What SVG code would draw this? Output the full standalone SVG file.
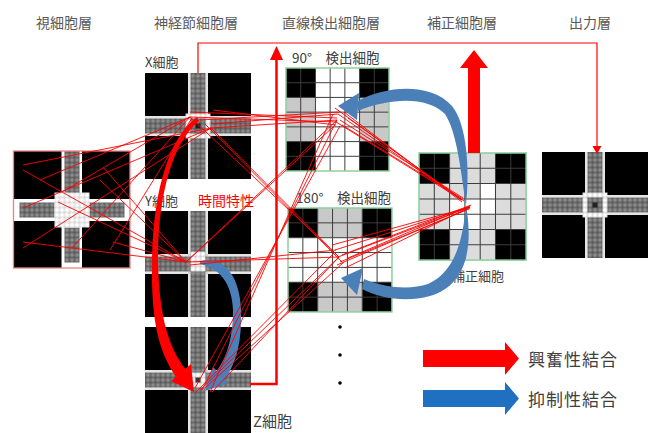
<svg xmlns="http://www.w3.org/2000/svg" width="652" height="433" viewBox="0 0 652 433">
<style>
text{font-family:'Noto Sans CJK JP','Noto Sans',sans-serif;}
.hdr{font-size:14px;fill:#595959;text-anchor:middle}
.lbl{font-size:13px;fill:#404040}
.leg{font-size:17px;fill:#404040;letter-spacing:1px}
.blk{fill:#000}
.grid{fill:none;stroke:#3c3c3c;stroke-width:1}
.bord{fill:none;stroke:#8ccf9c;stroke-width:1.5}
.ln{stroke:#ff0000;stroke-width:0.9;fill:none}
.gry{fill:#c8c8c8}
.lgry{fill:#dcdcdc}
.red{fill:#ff0000}
.blue{fill:#4a7fb8}
</style>
<defs>
<pattern id="pg" x="0.5" y="0.5" width="5" height="5" patternUnits="userSpaceOnUse"><rect width="5" height="5" fill="#8a8a8a" stroke="#3a3a3a" stroke-width="0.8"/></pattern>
<pattern id="pr" x="4.5" y="2.5" width="5" height="5" patternUnits="userSpaceOnUse"><rect width="5" height="5" fill="#8a8a8a" stroke="#3a3a3a" stroke-width="0.8"/></pattern>
<pattern id="pw" x="0.5" y="0.5" width="5" height="5" patternUnits="userSpaceOnUse"><rect width="5" height="5" fill="#fff" stroke="#9a9a9a" stroke-width="0.6"/></pattern>
<pattern id="prw" x="4.5" y="2.5" width="5" height="5" patternUnits="userSpaceOnUse"><rect width="5" height="5" fill="#fff" stroke="#b0b0b0" stroke-width="0.6"/></pattern>
<g id="gang">
<rect width="106" height="106" fill="#fff"/>
<rect class="blk" width="43" height="43"/>
<rect class="blk" x="63" width="43" height="43"/>
<rect class="blk" y="63" width="43" height="43"/>
<rect class="blk" x="63" y="63" width="43" height="43"/>
<rect x="45.5" y="0" width="15" height="106" fill="url(#pg)"/>
<rect x="0" y="45.5" width="106" height="15" fill="url(#pg)"/>
<path d="M44,0V106M62,0V106M0,44H106M0,62H106" stroke="#aaa" stroke-width="0.6"/>
</g>
<path id="g7" class="grid" d="M15,0V105M30,0V105M45,0V105M60,0V105M75,0V105M90,0V105M0,15H105M0,30H105M0,45H105M0,60H105M0,75H105M0,90H105"/>
<g id="corners">
<rect width="105" height="105" fill="#fff"/>
<rect class="blk" width="30" height="30"/>
<rect class="blk" x="75" width="30" height="30"/>
<rect class="blk" y="75" width="30" height="30"/>
<rect class="blk" x="75" y="75" width="30" height="30"/>
</g>
</defs>

<g id="headers">
<text class="hdr" x="64" y="28">視細胞層</text>
<text class="hdr" x="196" y="28">神経節細胞層</text>
<text class="hdr" x="331" y="28">直線検出細胞層</text>
<text class="hdr" x="462" y="28">補正細胞層</text>
<text class="hdr" x="590" y="28">出力層</text>
</g>

<g id="retina">
<rect x="13.5" y="151" width="116.5" height="117" fill="#fff"/>
<rect class="blk" x="13.5" y="151" width="48" height="48"/>
<rect class="blk" x="82" y="151" width="48" height="48"/>
<rect class="blk" x="13.5" y="221" width="48" height="47"/>
<rect class="blk" x="82" y="221" width="48" height="47"/>
<rect x="64.5" y="151" width="15" height="42" fill="url(#pr)"/>
<rect x="64.5" y="227.5" width="15" height="35" fill="url(#pr)"/>
<rect x="19.5" y="202.5" width="35" height="15" fill="url(#pr)"/>
<rect x="89.5" y="202.5" width="35" height="15" fill="url(#pr)"/>
<rect x="54.5" y="192.5" width="35" height="35" fill="url(#prw)"/>
<rect x="13.5" y="151" width="116.5" height="117" fill="none" stroke="#f08080" stroke-width="1.3"/>
</g>

<g id="x-cell">
<use href="#gang" x="145" y="73"/>
<g transform="translate(145,73)">
<rect x="40.5" y="40.5" width="25" height="25" fill="url(#pw)"/>
<rect x="45.5" y="45.5" width="15" height="15" fill="url(#pg)"/>
<rect x="50.5" y="50.5" width="5" height="5" fill="#222"/>
</g>
<text class="lbl" x="145" y="67">X細胞</text>
</g>

<g id="y-cell">
<use href="#gang" x="145" y="211"/>
<g transform="translate(145,211)">
<rect x="45.5" y="40.5" width="15" height="20" fill="url(#pw)"/>
</g>
<text class="lbl" x="145" y="206">Y細胞</text>
<text class="lbl" x="198" y="206" style="fill:#ff0000;font-size:14px">時間特性</text>
</g>

<g id="z-cell">
<use href="#gang" x="145" y="327"/>
<g transform="translate(145,327)">
<rect x="45.5" y="45.5" width="15" height="15" fill="url(#pw)"/>
<rect x="50.5" y="50.5" width="5" height="5" fill="#333"/>
</g>
<text class="lbl" x="253" y="427" style="font-size:15px">Z細胞</text>
</g>

<g id="d90-cell">
<g transform="translate(286,68) scale(0.981)">
<use href="#corners"/>
<rect class="gry" x="0" y="30" width="30" height="45"/>
<rect class="gry" x="75" y="30" width="30" height="45"/>
<use href="#g7"/>
<rect class="bord" width="105" height="105"/>
</g>
<text class="lbl" x="292" y="63" style="font-size:13.5px">90°　検出細胞</text>
</g>

<g id="d180-cell">
<g transform="translate(288,208) scale(0.99)">
<use href="#corners"/>
<rect class="gry" x="30" y="0" width="45" height="30"/>
<rect class="gry" x="30" y="75" width="45" height="30"/>
<use href="#g7"/>
<rect class="bord" width="105" height="105"/>
</g>
<text class="lbl" x="296" y="203" style="font-size:13.5px">180°　検出細胞</text>
</g>

<g id="dots">
<circle cx="340" cy="327" r="1.8"/>
<circle cx="340" cy="355" r="1.8"/>
<circle cx="340" cy="383" r="1.8"/>
</g>

<g id="correction-cell">
<g transform="translate(419,153) scale(1.02)">
<use href="#corners"/>
<rect class="lgry" x="30" y="0" width="45" height="30"/>
<rect class="lgry" x="30" y="75" width="45" height="30"/>
<rect class="lgry" x="0" y="30" width="30" height="45"/>
<rect class="lgry" x="75" y="30" width="30" height="45"/>
<rect class="lgry" x="30" y="30" width="30" height="15"/>
<rect class="lgry" x="60" y="60" width="15" height="15"/>
<use href="#g7"/>
<rect class="bord" width="105" height="105"/>
</g>
<text class="lbl" x="452" y="281">補正細胞</text>
</g>

<g id="output-cell">
<use href="#gang" x="542" y="152"/>
<g transform="translate(542,152)">
<rect x="40.5" y="40.5" width="25" height="25" fill="url(#pw)"/>
<rect x="45.5" y="45.5" width="15" height="15" fill="url(#pg)"/>
<rect x="50.5" y="50.5" width="5" height="5" fill="#222"/>
</g>
</g>

<g id="connectors">
<path class="blue" d="M358,101 C386,86 430,82 452,106 C467,124 470,170 466,205 C461,172 457,132 445,114 C427,96 390,98 358,111 Z"/>
<path class="blue" d="M338,106 L359,93 L357,120 Z"/>
<path class="blue" d="M466,205 C473,245 468,285 430,296 C405,303 380,298 362,289 L364,279 C385,288 410,290 428,284 C455,272 463,240 466,205 Z"/>
<path class="blue" d="M341,278 L363,268 L357,295 Z"/>
<path class="blue" d="M200,261 C222,255 240,274 241,310 C242,340 237,362 225,379 L216,372 C228,356 233,336 233,310 C232,284 220,268 200,264 Z"/>
<path class="blue" d="M205,391 L228,383 L213,367 Z"/>

<g class="ln">
<path d="M23,165L211,128M23,208L211,128M23,248L211,128M72,248L190,117M62,192L190,117M110,250L192,118M40,180L190,117"/>
<path d="M23,170L186,262M103,167L186,262M58,202L186,262M23,242L186,262M113,242L186,262M100,180L186,262"/>
<path d="M190,112L337,118M190,117L337,122M211,128L337,120M211,124L338,114M213,110L336,125M200,120L340,112"/>
<path d="M211,128L339,257M190,117L339,257M205,124L342,262"/>
<path d="M186,262L337,120M186,262L333,127M186,262L339,257M190,265L336,250"/>
<path d="M202,390L337,120M210,392L333,114M195,388L340,126M200,390L339,257M212,392L339,257M205,388L344,262M196,392L335,252"/>
<path d="M335,108L462,200M338,114L462,200M340,120L463,198M344,112L462,202M342,125L461,198M348,118L464,201M336,122L462,200"/>
<path d="M338,257L470,207M335,250L470,207M340,262L469,209M345,268L470,207M342,255L471,205M337,265L470,208M332,245L470,207M348,258L470,206"/>
</g>

<path class="red" d="M197,117 C170,136 153,190 152,260 C151,320 158,350 176,377 L186,370 C169,348 159,318 158,260 C158,196 172,143 199,121 Z"/>
<path class="red" d="M194,392 L171,381 L191,364 Z"/>

<path d="M198,73V43H597V147" fill="none" stroke="#ff0000" stroke-width="1.2"/>
<path class="red" d="M592.5,146H601.5L597,154Z"/>

<path d="M250,384H276.5V58" fill="none" stroke="#ff0000" stroke-width="2.5"/>
<path class="red" d="M270,60H283L276.5,46Z"/>

<path class="red" d="M468,153H480V68H488L474,50L460,68H468Z"/>
</g>

<g id="legend">
<path class="red" d="M423,350H505V342L519,358.5L505,375V367H423Z"/>
<text class="leg" x="528" y="366">興奮性結合</text>
<path d="M423,390H505V382L519,398.5L505,415V407H423Z" fill="#1f70c1"/>
<text class="leg" x="528" y="406">抑制性結合</text>
</g>
</svg>
